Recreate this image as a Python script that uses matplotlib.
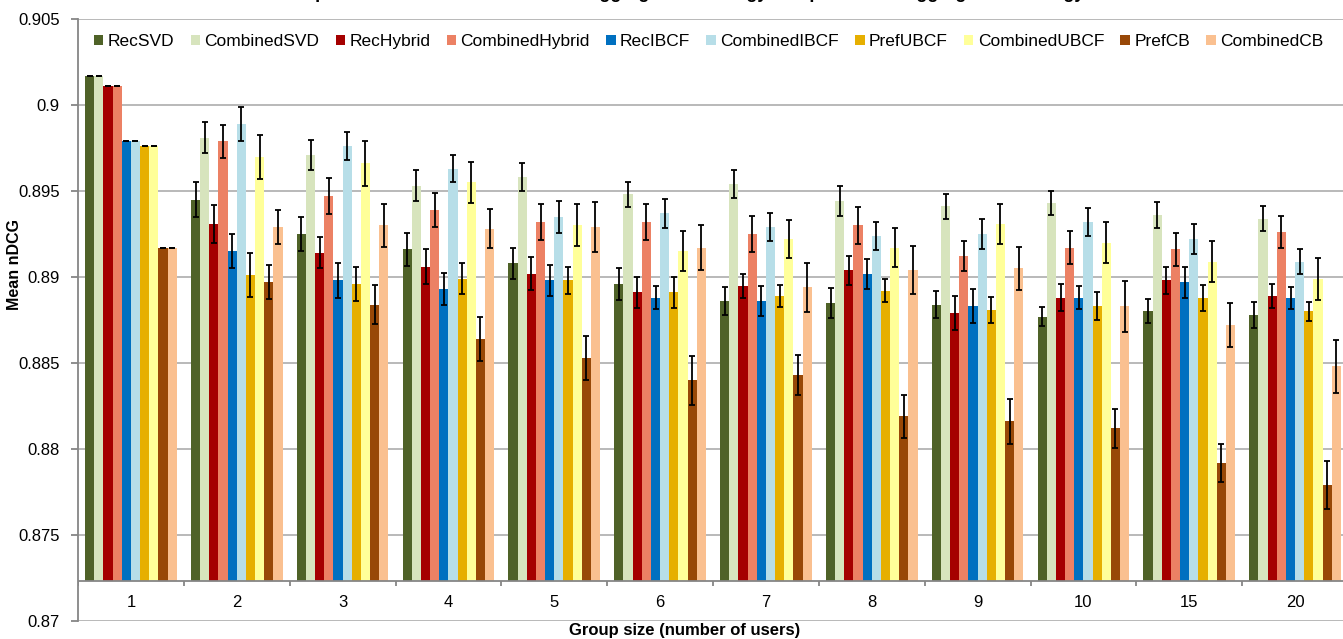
import matplotlib
matplotlib.use('Agg')
import matplotlib.pyplot as plt
import numpy as np

plt.rcParams['font.family'] = ['Liberation Sans', 'DejaVu Sans']

group_sizes = ['1', '2', '3', '4', '5', '6', '7', '8', '9', '10', '15', '20']
series = ['RecSVD', 'CombinedSVD', 'RecHybrid', 'CombinedHybrid', 'RecIBCF',
          'CombinedIBCF', 'PrefUBCF', 'CombinedUBCF', 'PrefCB', 'CombinedCB']

rec_svd = [0.9017, 0.8945, 0.8925, 0.8916, 0.8908, 0.8896, 0.8886, 0.8885, 0.8884, 0.8877, 0.8880, 0.8878]
comb_svd = [0.9017, 0.8981, 0.8971, 0.8953, 0.8958, 0.8948, 0.8954, 0.8944, 0.8941, 0.8943, 0.8936, 0.8934]
rec_hybrid = [0.9011, 0.8931, 0.8914, 0.8906, 0.8902, 0.8891, 0.8895, 0.8904, 0.8879, 0.8888, 0.8898, 0.8889]
comb_hybrid = [0.9011, 0.8979, 0.8947, 0.8939, 0.8932, 0.8932, 0.8925, 0.8930, 0.8912, 0.8917, 0.8916, 0.8926]
rec_ibcf = [0.8979, 0.8915, 0.8898, 0.8893, 0.8898, 0.8888, 0.8886, 0.8902, 0.8883, 0.8888, 0.8897, 0.8888]
comb_ibcf = [0.8979, 0.8989, 0.8976, 0.8963, 0.8935, 0.8937, 0.8929, 0.8924, 0.8925, 0.8932, 0.8922, 0.8909]
pref_ubcf = [0.8976, 0.8901, 0.8896, 0.8899, 0.8898, 0.8891, 0.8889, 0.8892, 0.8881, 0.8883, 0.8888, 0.8880]
comb_ubcf = [0.8976, 0.8970, 0.8966, 0.8955, 0.8930, 0.8915, 0.8922, 0.8917, 0.8931, 0.8920, 0.8909, 0.8899]
pref_cb = [0.8917, 0.8897, 0.8884, 0.8864, 0.8853, 0.8840, 0.8843, 0.8819, 0.8816, 0.8812, 0.8792, 0.8779]
comb_cb = [0.8917, 0.8929, 0.8930, 0.8928, 0.8929, 0.8917, 0.8894, 0.8904, 0.8905, 0.8883, 0.8872, 0.8848]

# half-length of the error bars
err_rec_svd = [0, 0.0010, 0.0010, 0.00097, 0.00089, 0.00095, 0.00082, 0.00086, 0.0008, 0.00055, 0.0007, 0.00076]
err_comb_svd = [0, 0.0009, 0.00089, 0.00091, 0.00081, 0.00074, 0.00083, 0.00088, 0.00072, 0.00068, 0.00076, 0.0007]
err_rec_hybrid = [0, 0.0011, 0.0009, 0.0010, 0.00096, 0.00092, 0.0007, 0.00084, 0.0010, 0.0008, 0.00077, 0.00068]
err_comb_hybrid = [0, 0.00096, 0.00105, 0.00098, 0.00103, 0.00103, 0.00105, 0.00107, 0.00088, 0.00097, 0.00097, 0.00092]
err_rec_ibcf = [0, 0.0010, 0.00104, 0.00092, 0.00092, 0.00066, 0.00086, 0.00087, 0.00099, 0.00067, 0.0009, 0.00064]
err_comb_ibcf = [0, 0.00097, 0.00082, 0.00078, 0.00092, 0.00085, 0.00083, 0.00081, 0.00086, 0.00083, 0.00087, 0.00074]
err_pref_ubcf = [0, 0.00128, 0.0010, 0.00089, 0.00077, 0.00089, 0.00066, 0.00068, 0.00075, 0.0008, 0.00075, 0.00056]
err_comb_ubcf = [0, 0.00128, 0.00132, 0.00118, 0.00122, 0.00118, 0.0011, 0.00112, 0.00117, 0.00117, 0.0012, 0.00123]
err_pref_cb = [0, 0.0010, 0.00113, 0.00129, 0.00126, 0.00142, 0.00117, 0.00125, 0.00132, 0.00114, 0.00109, 0.0014]
err_comb_cb = [0, 0.0010, 0.00123, 0.00114, 0.00146, 0.00132, 0.00141, 0.00138, 0.00126, 0.00147, 0.00127, 0.00154]

values = [rec_svd, comb_svd, rec_hybrid, comb_hybrid, rec_ibcf,
          comb_ibcf, pref_ubcf, comb_ubcf, pref_cb, comb_cb]
errors = [err_rec_svd, err_comb_svd, err_rec_hybrid, err_comb_hybrid, err_rec_ibcf,
          err_comb_ibcf, err_pref_ubcf, err_comb_ubcf, err_pref_cb, err_comb_cb]

col = ['#4F6228', '#D7E4BD', '#A50000', '#EC8164', '#0070C0',
       '#B7DEE8', '#E6AF00', '#FFFF99', '#984807', '#FAC090']

y_ticks = [0.87, 0.875, 0.88, 0.885, 0.89, 0.895, 0.9, 0.905]
y_labels = ['0.87', '0.875', '0.88', '0.885', '0.89', '0.895', '0.9', '0.905']
axis_cross = 0.8723  # horizontal axis crosses here (Excel style)

W, H = 1343, 639
fig = plt.figure(figsize=(W / 100, H / 100), dpi=100)
ax = fig.add_axes([78 / W, 1 - 621 / H, 1270 / W, 602 / H])

n = len(series)
bw = 1 / (n + 1.56)
x = np.arange(len(group_sizes))
for i, name in enumerate(series):
    xs = x - n * bw / 2 + (i + 0.5) * bw
    v = np.array(values[i])
    ax.bar(xs, v - axis_cross, bottom=axis_cross, width=bw, color=col[i],
           label=name, zorder=2, linewidth=0)
    ax.errorbar(xs, v, yerr=errors[i], ls='none', color='black',
                elinewidth=1.3, capsize=2.5, capthick=1.3, zorder=3)

ax.set_xlim(-0.5, len(group_sizes) - 0.5)
ax.set_ylim(0.87, 0.905)
ax.set_yticks(y_ticks)
ax.set_yticklabels(y_labels, fontsize=12)
ax.set_xticks([])
ax.grid(axis='y', color='#B3B3B3', linewidth=1.3, zorder=0)
ax.set_axisbelow(True)
for s in ['top', 'right', 'bottom']:
    ax.spines[s].set_visible(False)
ax.spines['left'].set_color('#868686')
ax.spines['left'].set_linewidth(1.3)
ax.tick_params(axis='y', length=5, width=1.3, color='#868686', pad=8)

# horizontal axis line, category ticks and labels
ax.axhline(axis_cross, color='#868686', linewidth=1.3, zorder=4)
ax.vlines(np.arange(len(group_sizes) + 1) - 0.5, axis_cross - 0.00029, axis_cross,
          color='#868686', linewidth=1.3, zorder=4)
for xi, lab in zip(x, group_sizes):
    ax.text(xi, 0.87108, lab, ha='center', va='center', fontsize=12)

ax.legend(loc='center left', bbox_to_anchor=(0.0125, 0.962), ncol=n, frameon=False,
          fontsize=12.5, handlelength=0.55, handleheight=0.55, handletextpad=0.25,
          columnspacing=0.93, borderpad=0, borderaxespad=0)

fig.text(15 / W, 1 - 265 / H, 'Mean nDCG', rotation=90, ha='center', va='center',
         fontsize=11.5, fontweight='bold')
fig.text(685 / W, 1 - 631 / H, 'Group size (number of users)', ha='center', va='center',
         fontsize=12, fontweight='bold')
# the title sits mostly above the top edge, as in the source image
fig.text(680 / W, 1 + 1.5 / H, 'Comparison of the recommendation aggregation strategy and preference aggregation strategy',
         ha='center', va='baseline', fontsize=13, fontweight='bold')

fig.savefig('out.png', dpi=100)
